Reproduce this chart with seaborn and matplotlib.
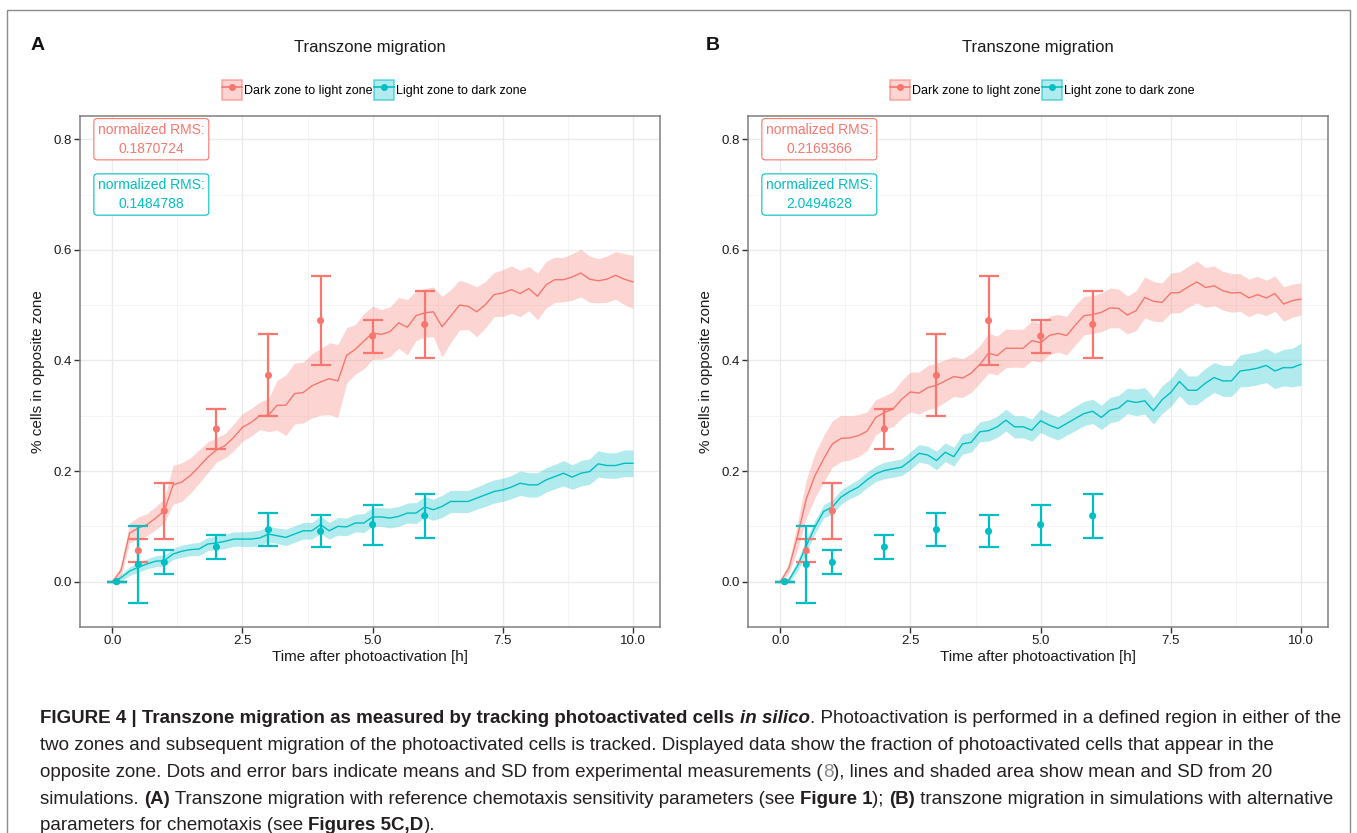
import numpy as np
import pandas as pd
import matplotlib
matplotlib.use("Agg")
import matplotlib.pyplot as plt
import matplotlib.font_manager as fm
from matplotlib.transforms import IdentityTransform
from matplotlib.patches import Patch, Rectangle
from matplotlib.lines import Line2D
from matplotlib.legend_handler import HandlerTuple
import seaborn as sns

# ---------------- data ----------------
series_names = ["Dark zone to light zone", "Light zone to dark zone"]
RED = "#F8766D"
CYAN = "#00BFC4"

sim_time = np.arange(61) / 6.0  # simulation output every 10 min

# Panel A simulations
a_dl_mean = [0.000, 0.020, 0.088, 0.097, 0.103, 0.115, 0.128, 0.175, 0.180, 0.192,
             0.208, 0.225, 0.238, 0.246, 0.261, 0.279, 0.288, 0.300, 0.301, 0.319,
             0.319, 0.340, 0.342, 0.354, 0.361, 0.367, 0.363, 0.409, 0.420, 0.435,
             0.450, 0.447, 0.452, 0.468, 0.460, 0.481, 0.486, 0.488, 0.461, 0.480,
             0.500, 0.498, 0.488, 0.501, 0.519, 0.522, 0.528, 0.521, 0.530, 0.516,
             0.537, 0.546, 0.546, 0.551, 0.558, 0.547, 0.544, 0.547, 0.554, 0.547,
             0.542]
a_dl_sd = [0.000, 0.010, 0.018, 0.020, 0.020, 0.021, 0.022, 0.035, 0.035, 0.032,
           0.030, 0.028, 0.022, 0.022, 0.024, 0.025, 0.025, 0.025, 0.030, 0.045,
           0.055, 0.055, 0.055, 0.058, 0.060, 0.065, 0.066, 0.050, 0.045, 0.050,
           0.048, 0.045, 0.045, 0.046, 0.050, 0.045, 0.044, 0.045, 0.055, 0.048,
           0.045, 0.042, 0.045, 0.042, 0.040, 0.042, 0.043, 0.042, 0.040, 0.042,
           0.042, 0.041, 0.040, 0.042, 0.043, 0.042, 0.040, 0.042, 0.043, 0.046,
           0.048]
a_ld_mean = [0.000, 0.007, 0.019, 0.026, 0.032, 0.037, 0.038, 0.050, 0.055, 0.058,
             0.059, 0.068, 0.070, 0.073, 0.077, 0.077, 0.077, 0.079, 0.086, 0.083,
             0.080, 0.086, 0.092, 0.092, 0.103, 0.092, 0.100, 0.099, 0.106, 0.106,
             0.117, 0.117, 0.115, 0.118, 0.124, 0.124, 0.135, 0.130, 0.136, 0.145,
             0.145, 0.145, 0.151, 0.157, 0.163, 0.166, 0.171, 0.178, 0.175, 0.175,
             0.184, 0.190, 0.196, 0.189, 0.196, 0.199, 0.213, 0.210, 0.210, 0.214,
             0.214]
a_ld_sd = [0.000, 0.006, 0.008, 0.009, 0.009, 0.010, 0.010, 0.010, 0.011, 0.011,
           0.012, 0.012, 0.012, 0.013, 0.013, 0.013, 0.014, 0.014, 0.014, 0.014,
           0.015, 0.015, 0.015, 0.015, 0.016, 0.015, 0.016, 0.016, 0.016, 0.017,
           0.017, 0.017, 0.018, 0.018, 0.018, 0.019, 0.019, 0.019, 0.020, 0.020,
           0.020, 0.020, 0.020, 0.021, 0.021, 0.021, 0.021, 0.022, 0.022, 0.022,
           0.022, 0.022, 0.023, 0.022, 0.023, 0.023, 0.024, 0.023, 0.023, 0.024,
           0.024]

# Panel B simulations
b_dl_mean = [0.000, 0.025, 0.083, 0.150, 0.192, 0.222, 0.249, 0.259, 0.260, 0.264,
             0.272, 0.297, 0.306, 0.312, 0.330, 0.343, 0.341, 0.351, 0.355, 0.363,
             0.371, 0.368, 0.377, 0.393, 0.413, 0.409, 0.422, 0.422, 0.422, 0.436,
             0.432, 0.445, 0.449, 0.445, 0.464, 0.481, 0.483, 0.487, 0.495, 0.494,
             0.482, 0.490, 0.514, 0.507, 0.505, 0.522, 0.523, 0.533, 0.542, 0.532,
             0.535, 0.526, 0.522, 0.523, 0.513, 0.519, 0.513, 0.521, 0.502, 0.508,
             0.511]
b_dl_sd = [0.000, 0.010, 0.025, 0.035, 0.040, 0.042, 0.042, 0.042, 0.040, 0.038,
           0.035, 0.032, 0.030, 0.032, 0.034, 0.036, 0.038, 0.040, 0.040, 0.038,
           0.036, 0.035, 0.035, 0.034, 0.036, 0.035, 0.035, 0.034, 0.035, 0.036,
           0.035, 0.035, 0.034, 0.035, 0.036, 0.035, 0.034, 0.035, 0.036, 0.035,
           0.034, 0.036, 0.037, 0.036, 0.035, 0.036, 0.037, 0.037, 0.038, 0.036,
           0.036, 0.035, 0.035, 0.034, 0.034, 0.033, 0.032, 0.032, 0.031, 0.030,
           0.029]
b_ld_mean = [0.000, 0.003, 0.029, 0.065, 0.099, 0.127, 0.135, 0.153, 0.163, 0.171,
             0.184, 0.195, 0.201, 0.204, 0.207, 0.219, 0.232, 0.229, 0.219, 0.234,
             0.226, 0.249, 0.252, 0.271, 0.273, 0.280, 0.292, 0.280, 0.280, 0.274,
             0.291, 0.283, 0.277, 0.286, 0.295, 0.304, 0.308, 0.297, 0.310, 0.314,
             0.327, 0.324, 0.327, 0.309, 0.329, 0.342, 0.362, 0.346, 0.346, 0.359,
             0.369, 0.363, 0.363, 0.381, 0.383, 0.386, 0.391, 0.381, 0.387, 0.387,
             0.393]
b_ld_sd = [0.000, 0.005, 0.010, 0.012, 0.012, 0.012, 0.013, 0.013, 0.013, 0.014,
           0.014, 0.014, 0.015, 0.015, 0.015, 0.016, 0.016, 0.016, 0.017, 0.017,
           0.017, 0.018, 0.018, 0.018, 0.019, 0.019, 0.020, 0.020, 0.020, 0.020,
           0.021, 0.021, 0.021, 0.021, 0.022, 0.022, 0.022, 0.022, 0.023, 0.023,
           0.023, 0.024, 0.024, 0.024, 0.025, 0.025, 0.026, 0.026, 0.026, 0.027,
           0.027, 0.028, 0.028, 0.029, 0.030, 0.030, 0.031, 0.032, 0.033, 0.035,
           0.038]

# Experimental measurements (same in both panels)
exp_time = [0.083, 0.5, 1, 2, 3, 4, 5, 6]
exp_dl_mean = [0.0, 0.056, 0.128, 0.276, 0.373, 0.472, 0.444, 0.465]
exp_dl_sd = [0.0, 0.021, 0.050, 0.036, 0.074, 0.081, 0.030, 0.060]
exp_ld_mean = [0.0, 0.031, 0.035, 0.0625, 0.094, 0.091, 0.103, 0.119]
exp_ld_sd = [0.0, 0.0705, 0.0215, 0.021, 0.030, 0.029, 0.036, 0.040]

rms_labels_a = ["0.1870724", "0.1484788"]
rms_labels_b = ["0.2169366", "2.0494628"]

x_ticks = [0.0, 2.5, 5.0, 7.5, 10.0]
x_ticklabels = ["0.0", "2.5", "5.0", "7.5", "10.0"]
y_ticks = [0.0, 0.2, 0.4, 0.6, 0.8]
y_ticklabels = ["0.0", "0.2", "0.4", "0.6", "0.8"]

# ---------------- figure ----------------
W, H = 1357, 833
fig = plt.figure(figsize=(W / 100, H / 100), dpi=100)
fig.patch.set_facecolor("white")
FONT = ["Liberation Sans", "DejaVu Sans"]
plt.rcParams["font.family"] = FONT

palette = {series_names[0]: RED, series_names[1]: CYAN}


def px_axes(left, top, right, bottom):
    return fig.add_axes([left / W, 1 - bottom / H, (right - left) / W, (bottom - top) / H])


def draw_panel(ax, dl_mean, dl_sd, ld_mean, ld_sd, rms):
    sim = pd.DataFrame({
        "time": np.concatenate([sim_time, sim_time]),
        "mean": np.concatenate([dl_mean, ld_mean]),
        "sd": np.concatenate([dl_sd, ld_sd]),
        "series": [series_names[0]] * len(sim_time) + [series_names[1]] * len(sim_time),
    })
    exp = pd.DataFrame({
        "time": exp_time + exp_time,
        "mean": exp_dl_mean + exp_ld_mean,
        "sd": exp_dl_sd + exp_ld_sd,
        "series": [series_names[0]] * len(exp_time) + [series_names[1]] * len(exp_time),
    })
    ax.set_facecolor("white")
    # grid
    ax.set_xticks([1.25, 3.75, 6.25, 8.75], minor=True)
    ax.set_yticks([0.1, 0.3, 0.5, 0.7], minor=True)
    ax.grid(True, which="major", color="#EBEBEB", lw=1.0, zorder=0)
    ax.grid(True, which="minor", color="#F4F4F4", lw=0.7, zorder=0)
    ax.set_axisbelow(True)
    for name in series_names:
        s = sim[sim.series == name]
        ax.fill_between(s["time"], s["mean"] - s["sd"], s["mean"] + s["sd"],
                        color=palette[name], alpha=0.3, lw=0, zorder=1)
    sns.lineplot(data=sim, x="time", y="mean", hue="series", palette=palette,
                 ax=ax, legend=False, lw=1.0, zorder=2, estimator=None)
    for name in series_names:
        e = exp[exp.series == name]
        ax.errorbar(e["time"], e["mean"], yerr=e["sd"], fmt="none",
                    ecolor=palette[name], elinewidth=1.6, capsize=7.5,
                    capthick=1.6, zorder=3)
    sns.scatterplot(data=exp, x="time", y="mean", hue="series", palette=palette,
                    ax=ax, legend=False, s=26, edgecolor="none", zorder=4)
    ax.set_xlim(-0.62, 10.52)
    ax.set_ylim(-0.082, 0.842)
    ax.set_xticks(x_ticks)
    ax.set_xticklabels(x_ticklabels)
    ax.set_yticks(y_ticks)
    ax.set_yticklabels(y_ticklabels)
    ax.tick_params(which="major", length=4, width=1, color="#333333",
                   labelsize=9.5, labelcolor="#1a1a1a", pad=2)
    ax.tick_params(which="minor", length=0)
    for sp in ax.spines.values():
        sp.set_color("#7f7f7f")
        sp.set_linewidth(1.1)
    ax.set_xlabel("Time after photoactivation [h]", fontsize=11, labelpad=2, color="#1a1a1a")
    ax.set_ylabel("% cells in opposite zone", fontsize=11, labelpad=6, color="#1a1a1a")
    ax.text(0.5, 1.135, "Transzone migration", transform=ax.transAxes,
            ha="center", va="center", fontsize=12, color="#1a1a1a")
    for yv, col, lab in [(0.8, RED, rms[0]), (0.7, CYAN, rms[1])]:
        ax.text(0.75, yv, "normalized RMS:\n" + lab, ha="center", va="center",
                color=col, fontsize=10, linespacing=1.45, zorder=6,
                bbox=dict(boxstyle="round,pad=0.3,rounding_size=0.25",
                          fc="white", ec=col, lw=0.8))
    handles = []
    for name in series_names:
        c = matplotlib.colors.to_rgb(palette[name])
        handles.append((Patch(facecolor=(*c, 0.3), edgecolor=(*c, 0.55), lw=1.2),
                        Line2D([0], [0], color=palette[name], lw=1.2, marker="o", ms=4)))
    ax.legend(handles, series_names, loc="center", bbox_to_anchor=(0.507, 1.051),
              ncol=2, frameon=False, fontsize=9, handlelength=1.6, handleheight=2.1,
              handletextpad=0.15, columnspacing=0.15, borderaxespad=0,
              handler_map={tuple: HandlerTuple(ndivide=1, pad=0)})


axA = px_axes(80, 116, 660, 627)
draw_panel(axA, a_dl_mean, a_dl_sd, a_ld_mean, a_ld_sd, rms_labels_a)
axB = px_axes(748, 116, 1328, 627)
draw_panel(axB, b_dl_mean, b_dl_sd, b_ld_mean, b_ld_sd, rms_labels_b)

ident = IdentityTransform()
fig.text(38, H - 45, "A", transform=ident, ha="center", va="center",
         fontsize=14, fontweight="bold", color="#111111")
fig.text(713, H - 45, "B", transform=ident, ha="center", va="center",
         fontsize=14, fontweight="bold", color="#111111")

# outer frame
fig.patches.append(Rectangle((7, -10), 1343, H - 10 + 10, transform=ident,
                             fill=False, ec="#8c8c8c", lw=1.0))

# ---------------- caption ----------------
names = {f.name for f in fm.fontManager.ttflist}
CAP_FONT = ["Liberation Sans Narrow", "Liberation Sans", "DejaVu Sans"] if "Liberation Sans Narrow" in names else ["Liberation Sans", "DejaVu Sans"]
CAP_COL = "#231f20"
LINK = "#8a8a8a"
renderer = fig.canvas.get_renderer()

caption_lines = [
    [("FIGURE 4 | Transzone migration as measured by tracking photoactivated cells ", "bold", "normal", CAP_COL),
     ("in silico", "bold", "italic", CAP_COL),
     (". Photoactivation is performed in a defined region in either of the", "normal", "normal", CAP_COL)],
    [("two zones and subsequent migration of the photoactivated cells is tracked. Displayed data show the fraction of photoactivated cells that appear in the", "normal", "normal", CAP_COL)],
    [("opposite zone. Dots and error bars indicate means and SD from experimental measurements (", "normal", "normal", CAP_COL),
     ("8", "normal", "normal", LINK),
     ("), lines and shaded area show mean and SD from 20", "normal", "normal", CAP_COL)],
    [("simulations. ", "normal", "normal", CAP_COL),
     ("(A)", "bold", "normal", CAP_COL),
     (" Transzone migration with reference chemotaxis sensitivity parameters (see ", "normal", "normal", CAP_COL),
     ("Figure 1", "bold", "normal", CAP_COL),
     ("); ", "normal", "normal", CAP_COL),
     ("(B)", "bold", "normal", CAP_COL),
     (" transzone migration in simulations with alternative", "normal", "normal", CAP_COL)],
    [("parameters for chemotaxis (see ", "normal", "normal", CAP_COL),
     ("Figures 5C,D", "bold", "normal", CAP_COL),
     (").", "normal", "normal", CAP_COL)],
]


def width_of(s, size, weight, style):
    t = fig.text(0, 0, s + "|", transform=ident, fontsize=size, fontweight=weight,
                 fontstyle=style, family=CAP_FONT)
    w1 = t.get_window_extent(renderer).width
    t.set_text("|")
    w2 = t.get_window_extent(renderer).width
    t.remove()
    return w1 - w2


def line_width(parts, size):
    return sum(width_of(s, size, w, st) for s, w, st, c in parts)


target = 1338 - 40
base = 12.0
cap_size = base * target / line_width(caption_lines[0], base)

baselines = [H - 723, H - 750, H - 777, H - 803.5, H - 830]
for parts, yb in zip(caption_lines, baselines):
    x = 40
    for s, w, st, c in parts:
        fig.text(x, yb, s, transform=ident, fontsize=cap_size, fontweight=w,
                 fontstyle=st, color=c, family=CAP_FONT, ha="left", va="baseline")
        x += width_of(s, cap_size, w, st)

fig.savefig("out.png", dpi=100, facecolor="white")
